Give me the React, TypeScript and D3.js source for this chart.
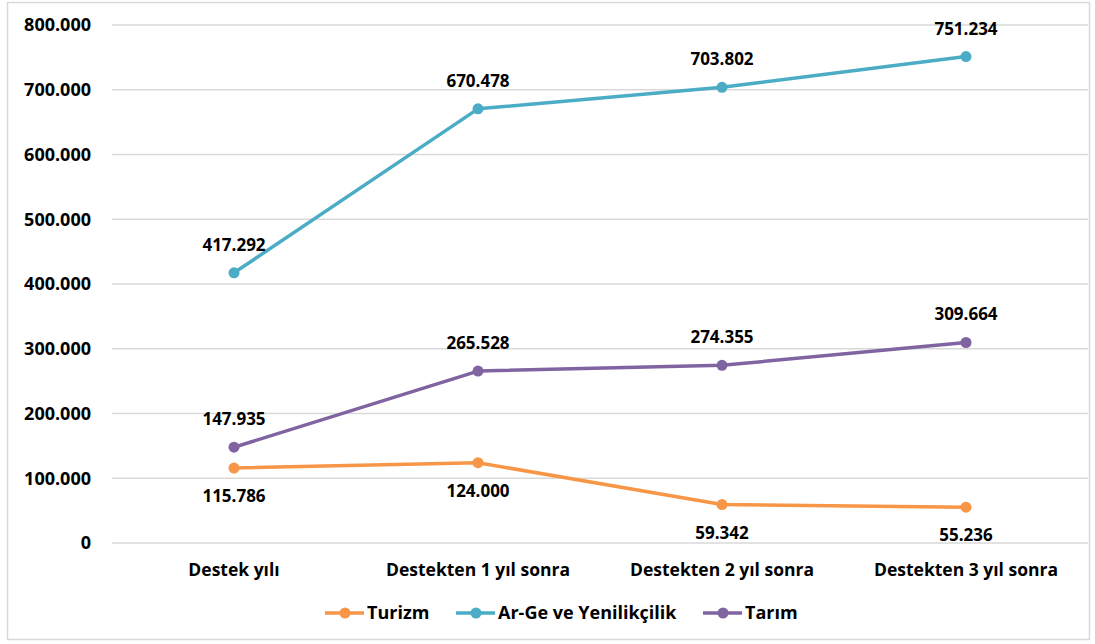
import React from 'react';
import * as d3 from 'd3';

const categories = ['Destek yılı', 'Destekten 1 yıl sonra', 'Destekten 2 yıl sonra', 'Destekten 3 yıl sonra'];
const turizm = [115786, 124000, 59342, 55236];
const arge = [417292, 670478, 703802, 751234];
const tarim = [147935, 265528, 274355, 309664];
const yTicks = [0, 100000, 200000, 300000, 400000, 500000, 600000, 700000, 800000];

const series = [
  { name: 'Turizm', values: turizm, color: '#F79646', labelPos: 'below' },
  { name: 'Ar-Ge ve Yenilikçilik', values: arge, color: '#4BACC6', labelPos: 'above' },
  { name: 'Tarım', values: tarim, color: '#8064A2', labelPos: 'above' },
];

const W = 1095;
const H = 644;
const font = "'Open Sans', 'DejaVu Sans', sans-serif";
const fmt = (v: number) => d3.format(',')(v).replace(/,/g, '.');

const App = () => {
  const x = d3.scaleBand<string>().domain(categories).range([112, 1088]);
  const y = d3.scaleLinear().domain([0, 800000]).range([543, 25]);
  const line = d3.line<number>()
    .x((_, i) => x(categories[i])! + x.bandwidth() / 2)
    .y((d) => y(d));

  const legendItems = [
    { s: series[0], x0: 325 },
    { s: series[1], x0: 456 },
    { s: series[2], x0: 703 },
  ];

  return (
    <svg width={W} height={H} style={{ position: 'absolute', left: 0, top: 0, background: '#fff' }}>
      <rect x={7.5} y={2.5} width={1082} height={637} fill="#fff" stroke="#d9d9d9" strokeWidth={1.5} />
      {yTicks.map((t) => (
        <g key={t}>
          <line x1={112} x2={1088} y1={y(t)} y2={y(t)} stroke="#d9d9d9" strokeWidth={1.5} />
          <text x={91} y={y(t)} dy="0.35em" textAnchor="end" fontFamily={font} fontWeight="bold" fontSize={18} fill="#000">
            {fmt(t)}
          </text>
        </g>
      ))}
      {categories.map((c) => (
        <text key={c} x={x(c)! + x.bandwidth() / 2} y={570} dy="0.35em" textAnchor="middle" fontFamily={font} fontWeight="bold" fontSize={17.5} fill="#000">
          {c}
        </text>
      ))}
      {series.map((s) => (
        <g key={s.name}>
          <path d={line(s.values)!} fill="none" stroke={s.color} strokeWidth={3.5} strokeLinejoin="round" />
          {s.values.map((v, i) => {
            const cx = x(categories[i])! + x.bandwidth() / 2;
            const cy = y(v);
            return (
              <g key={i}>
                <circle cx={cx} cy={cy} r={5.5} fill={s.color} />
                <text x={cx} y={s.labelPos === 'above' ? cy - 28 : cy + 28} dy="0.35em" textAnchor="middle" fontFamily={font} fontWeight="bold" fontSize={17} fill="#000">
                  {fmt(v)}
                </text>
              </g>
            );
          })}
        </g>
      ))}
      {legendItems.map(({ s, x0 }) => (
        <g key={s.name}>
          <line x1={x0} x2={x0 + 39} y1={613} y2={613} stroke={s.color} strokeWidth={3.5} />
          <circle cx={x0 + 20} cy={613} r={5.5} fill={s.color} />
          <text x={x0 + 42} y={613} dy="0.35em" fontFamily={font} fontWeight="bold" fontSize={18} fill="#000">
            {s.name}
          </text>
        </g>
      ))}
    </svg>
  );
};

export default App;
